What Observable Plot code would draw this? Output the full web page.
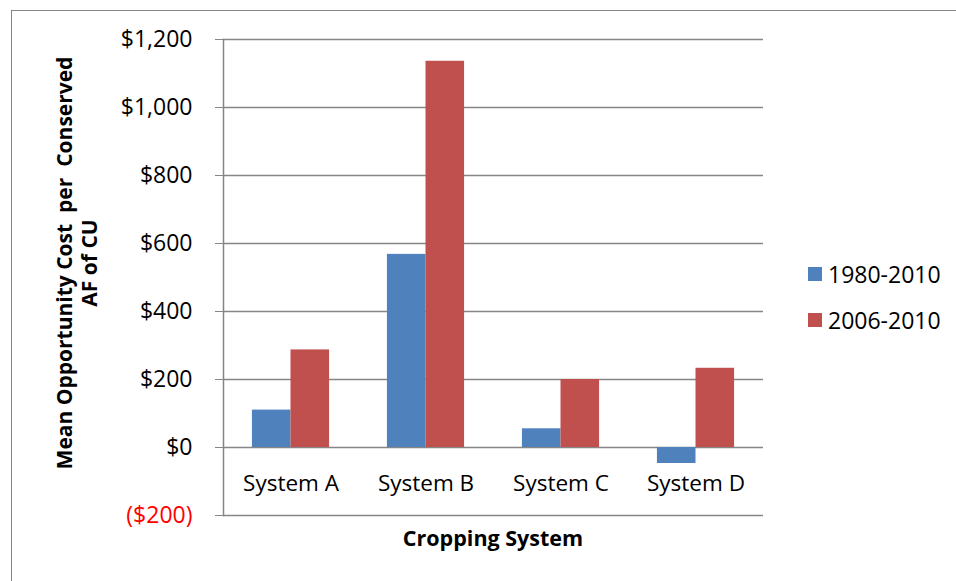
<!DOCTYPE html>
<html>
<head>
<meta charset="utf-8">
<script src="https://cdn.jsdelivr.net/npm/d3@7"></script>
<script src="https://cdn.jsdelivr.net/npm/@observablehq/plot@0.6"></script>
<style>
  body { margin: 0; background: #fff; font-family: "Open Sans", Lato, sans-serif; }
  #wrap { position: relative; width: 956px; height: 581px; overflow: hidden; }
  #border { position: absolute; left: 11px; top: 10px; width: 1200px; height: 1200px; border: 1px solid #868686; box-sizing: border-box; }
  #chart { position: absolute; left: 0; top: 0; }
  #ytitle { position: absolute; left: 77px; top: 263px; width: 480px; transform: translate(-50%, -50%) rotate(-90deg); text-align: center; font-weight: bold; font-size: 21px; line-height: 25px; white-space: pre; color: #000; }
  #xtitle { position: absolute; left: 493px; top: 537px; transform: translate(-50%, -50%); font-weight: bold; font-size: 21.5px; color: #000; white-space: nowrap; }
  #legend { position: absolute; left: 808px; top: 251px; font-size: 23px; color: #000; }
  .li { display: flex; align-items: center; height: 46px; }
  .sw { width: 14px; height: 14px; margin-right: 6px; }
</style>
</head>
<body>
<div id="wrap">
  <div id="border"></div>
  <div id="chart"></div>
  <div id="ytitle"></div>
  <div id="xtitle"></div>
  <div id="legend"></div>
</div>
<script>
const systems = ["System A", "System B", "System C", "System D"];
const seriesNames = ["1980-2010", "2006-2010"];
const values1980 = [110, 568, 55, -47];
const values2006 = [287, 1136, 200, 233];
const yTicks = [-200, 0, 200, 400, 600, 800, 1000, 1200];
const seriesColors = ["#4F81BD", "#C0504D"];
const yTitleLines = ["Mean Opportunity Cost  per  Conserved", "AF of CU"];
const xTitle = "Cropping System";

const rows = [];
systems.forEach((s, i) => {
  rows.push({system: s, series: seriesNames[0], value: values1980[i]});
  rows.push({system: s, series: seriesNames[1], value: values2006[i]});
});

const fmt = d => d < 0 ? `($${d3.format(",")(-d)})` : `$${d3.format(",")(d)}`;
const posTicks = yTicks.filter(d => d >= 0);
const negTicks = yTicks.filter(d => d < 0);

const chart = Plot.plot({
  width: 956,
  height: 581,
  marginLeft: 222,
  marginRight: 192,
  marginTop: 39,
  marginBottom: 66,
  style: {fontFamily: "'Open Sans', Lato, sans-serif", fontSize: "22px", color: "#000", background: "transparent"},
  fx: {domain: systems, padding: 0, axis: null, label: null},
  x: {domain: seriesNames, paddingInner: 0, paddingOuter: 0.75, round: false, axis: null},
  y: {domain: [-200, 1200], axis: null},
  color: {domain: seriesNames, range: seriesColors},
  marks: [
    Plot.gridY(yTicks, {stroke: "#868686", strokeOpacity: 1, strokeWidth: 1.5}),
    Plot.barY(rows, {fx: "system", x: "series", y: "value", fill: "series"}),
    Plot.frame({anchor: "left", stroke: "#868686", strokeWidth: 1.5, facetAnchor: "left"}),
    Plot.axisY(posTicks, {tickSize: 8, tickPadding: 23, tickFormat: fmt, stroke: "#868686", fill: "#000", label: null, fontSize: 23}),
    Plot.axisY(negTicks, {tickSize: 8, tickPadding: 23, tickFormat: fmt, stroke: "#868686", fill: "#ff0000", label: null, fontSize: 23}),
    Plot.text(systems, {fx: d => d, y: () => 0, text: d => d, dy: 36, fontSize: 22.5, fill: "#000"})
  ]
});
document.getElementById("chart").appendChild(chart);

document.getElementById("ytitle").textContent = yTitleLines.join("\n");
document.getElementById("xtitle").textContent = xTitle;

const legend = document.getElementById("legend");
seriesNames.forEach((name, i) => {
  const li = document.createElement("div");
  li.className = "li";
  const sw = document.createElement("div");
  sw.className = "sw";
  sw.style.background = seriesColors[i];
  const t = document.createElement("span");
  t.textContent = name;
  li.appendChild(sw);
  li.appendChild(t);
  legend.appendChild(li);
});
</script>
</body>
</html>
